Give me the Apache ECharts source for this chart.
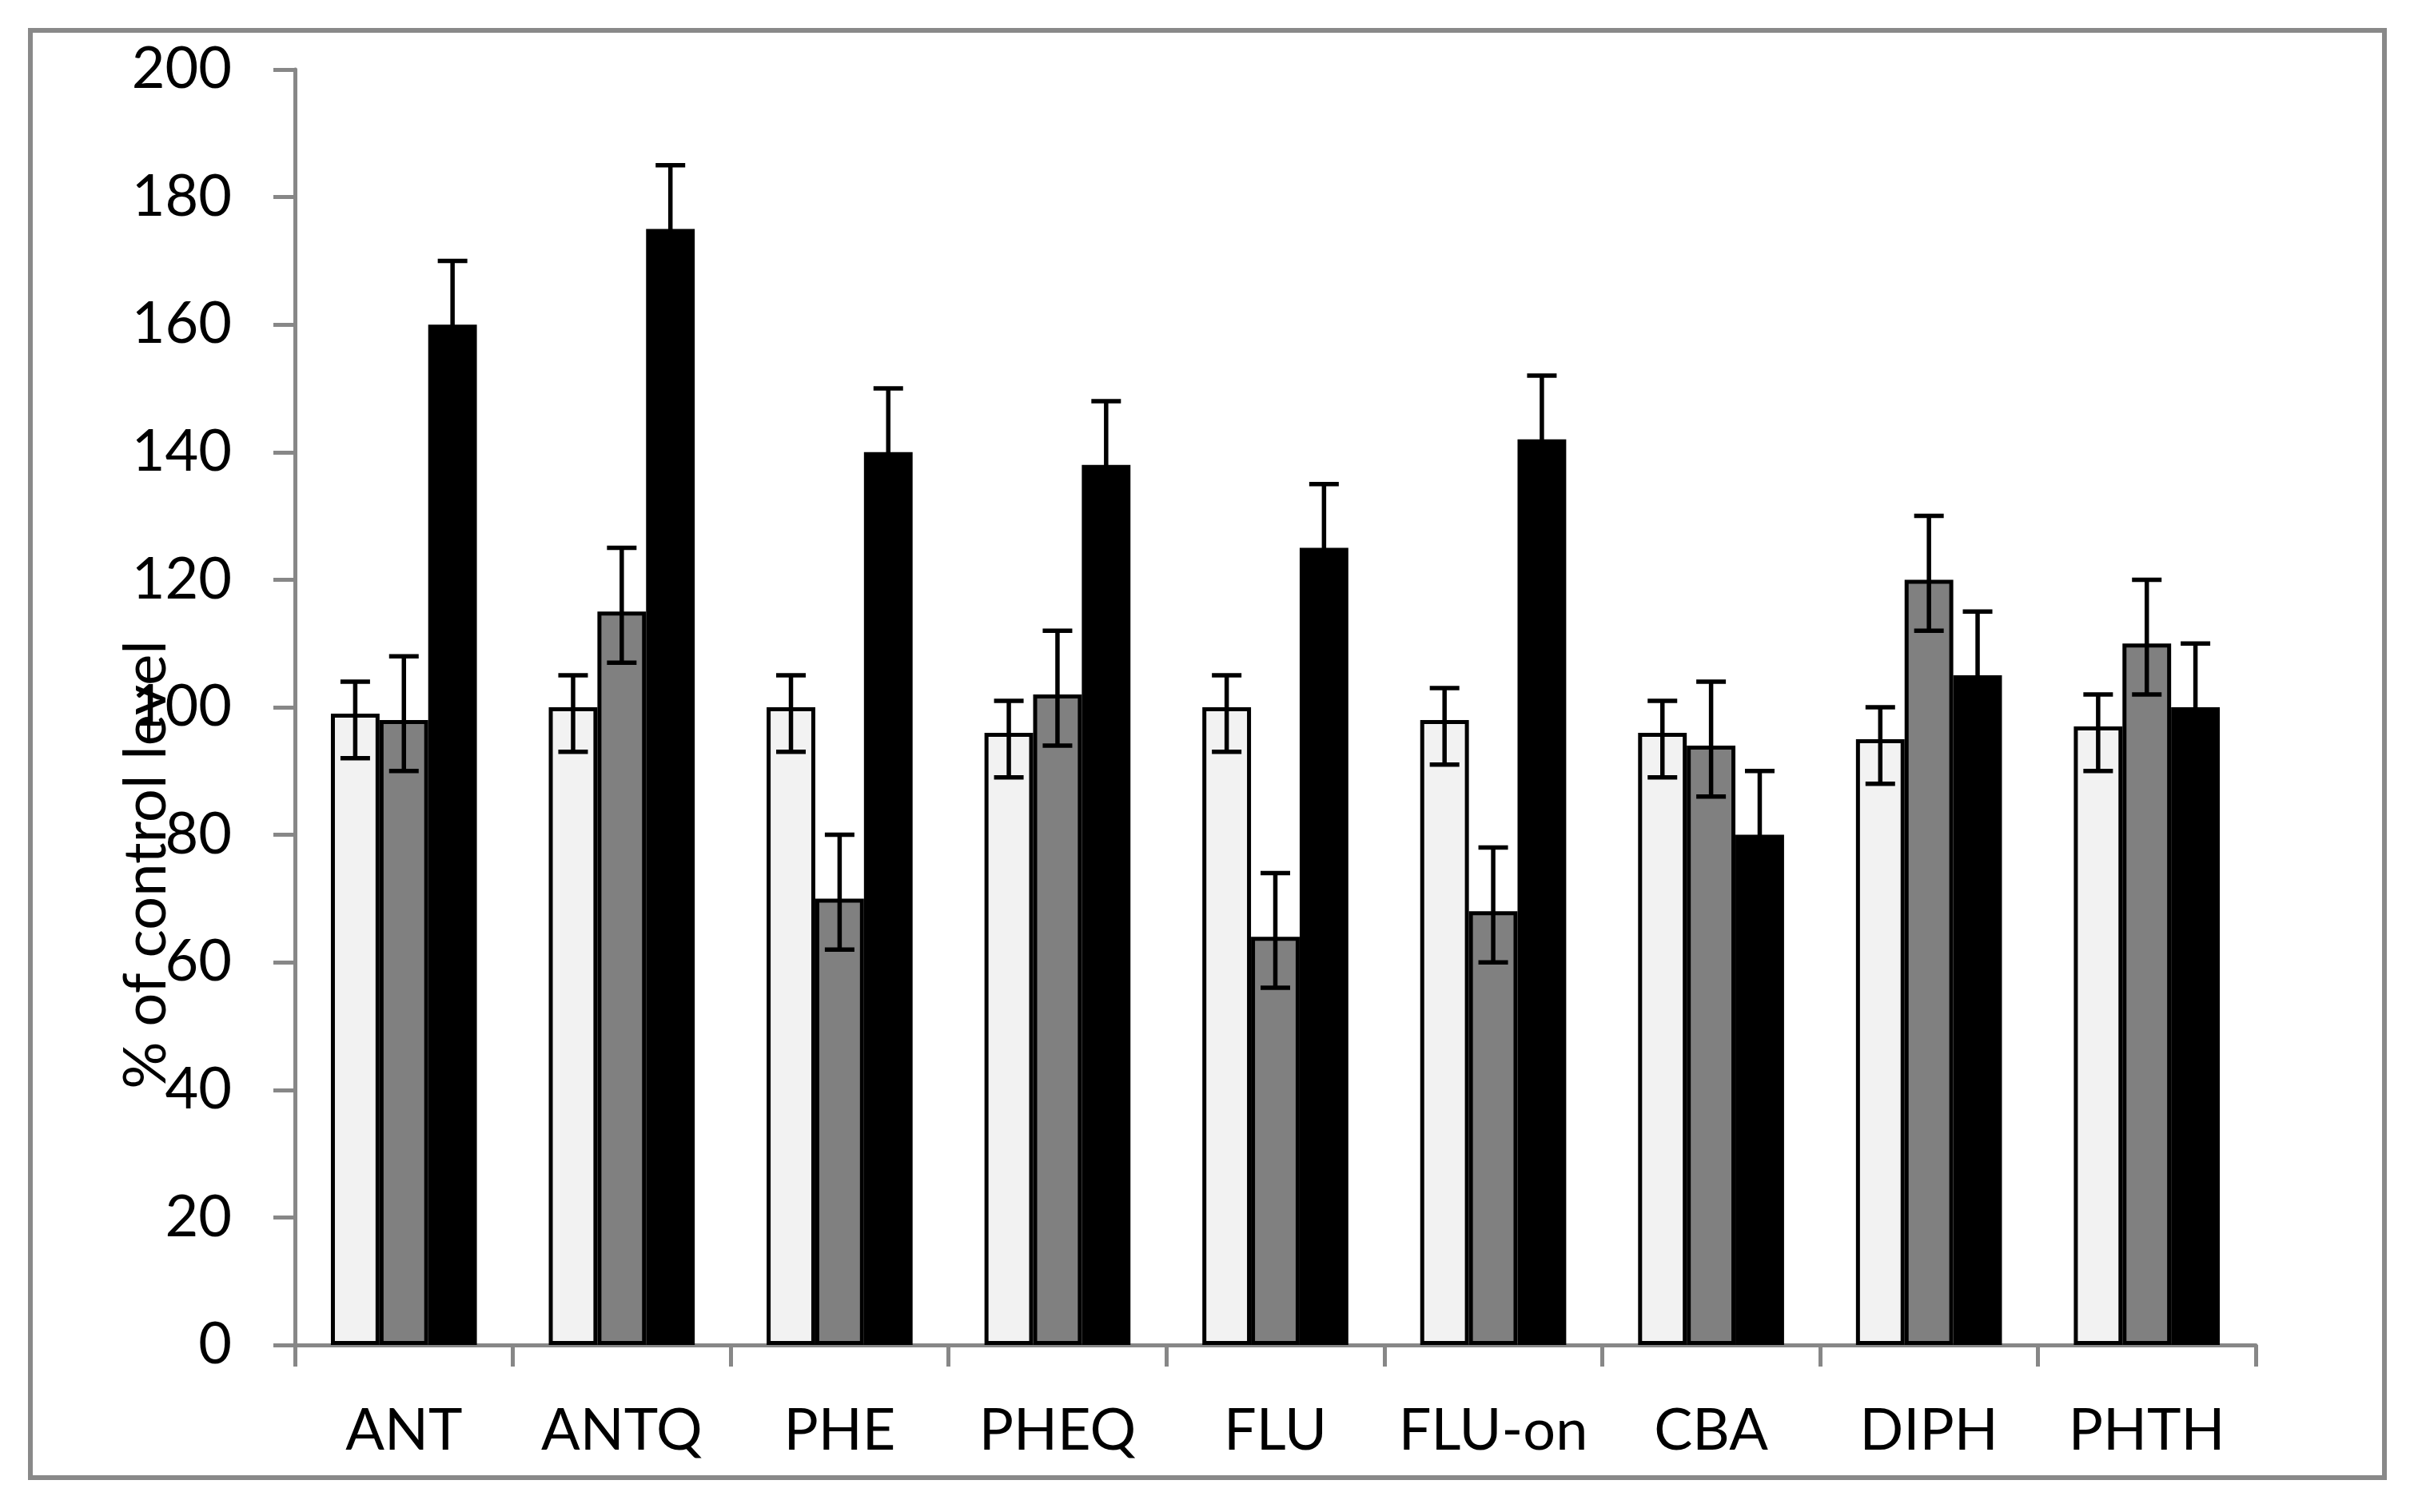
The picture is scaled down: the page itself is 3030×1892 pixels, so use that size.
<!DOCTYPE html>
<html><head><meta charset="utf-8">
<script src="https://cdn.jsdelivr.net/npm/echarts@6/dist/echarts.min.js"></script>
<style>html,body{margin:0;padding:0;background:#fff}#c{width:3030px;height:1892px}</style>
</head><body><div id="c"></div>
<script>
const categories = ['ANT', 'ANTQ', 'PHE', 'PHEQ', 'FLU', 'FLU-on', 'CBA', 'DIPH', 'PHTH'];
const lightValues = [99, 100, 100, 96, 100, 98, 96, 95, 97];
const lightErrUp = [5, 5, 5, 5, 5, 5, 5, 5, 5];
const lightErrDown = [7, 7, 7, 7, 7, 7, 7, 7, 7];
const grayValues = [98, 115, 70, 102, 64, 68, 94, 120, 110];
const grayErrUp = [10, 10, 10, 10, 10, 10, 10, 10, 10];
const grayErrDown = [8, 8, 8, 8, 8, 8, 8, 8, 8];
const blackValues = [160, 175, 140, 138, 125, 142, 80, 105, 100];
const blackErrUp = [10, 10, 10, 10, 10, 10, 10, 10, 10];
const blackErrDown = [8, 8, 8, 8, 8, 8, 8, 8, 8];
const yMin = 0, yMax = 200, yStep = 20;
const yAxisTitle = '% of control level';

const FONT = 'Lato';
const AXIS_GRAY = '#878787';
const CAT_GAP = 0.33;
const CAP = 37;
const ERR_W = 5.5;

function errSeries(vals, up, down, slot) {
  return {
    type: 'custom',
    z: 10,
    silent: true,
    data: vals.map((v, i) => [i, v + up[i], v - down[i]]),
    encode: { x: 0, y: [1, 2] },
    renderItem(params, api) {
      const band = api.size([1, 0])[0];
      const bw = band * (1 - CAT_GAP) / 3;
      const hi = api.coord([api.value(0), api.value(1)]);
      const lo = api.coord([api.value(0), api.value(2)]);
      const x = hi[0] + (slot - 1) * bw;
      const h = CAP / 2;
      const st = { stroke: '#000', lineWidth: ERR_W, lineCap: 'butt' };
      return {
        type: 'group',
        children: [
          { type: 'line', shape: { x1: x, y1: hi[1], x2: x, y2: lo[1] }, style: st },
          { type: 'line', shape: { x1: x - h, y1: hi[1], x2: x + h, y2: hi[1] }, style: st },
          { type: 'line', shape: { x1: x - h, y1: lo[1], x2: x + h, y2: lo[1] }, style: st }
        ]
      };
    }
  };
}

function barSeries(vals, color) {
  return {
    type: 'bar',
    data: vals,
    barGap: '0%',
    barCategoryGap: (CAT_GAP * 100) + '%',
    itemStyle: { color: color, borderColor: '#000', borderWidth: 5 },
    z: 2
  };
}

const chart = echarts.init(document.getElementById('c'), null, { renderer: 'canvas' });
chart.setOption({
  animation: false,
  backgroundColor: '#fff',
  textStyle: { fontFamily: FONT },
  grid: { left: 369, right: 208, top: 87, bottom: 209, containLabel: false, outerBoundsMode: 'none' },
  xAxis: {
    type: 'category',
    data: categories,
    axisLine: { show: true, lineStyle: { color: AXIS_GRAY, width: 5 } },
    axisTick: { show: true, length: 27, interval: 0, lineStyle: { color: AXIS_GRAY, width: 5 } },
    axisLabel: { interval: 0, margin: 72, fontSize: 72, color: '#000', fontFamily: FONT },
    splitLine: { show: false }
  },
  yAxis: {
    type: 'value',
    min: yMin, max: yMax, interval: yStep,
    axisLine: { show: true, lineStyle: { color: AXIS_GRAY, width: 5 } },
    axisTick: { show: true, length: 27, lineStyle: { color: AXIS_GRAY, width: 5 } },
    axisLabel: { margin: 79, fontSize: 72, color: '#000', fontFamily: FONT },
    splitLine: { show: false }
  },
  graphic: [
    {
      type: 'rect', z: -10,
      shape: { x: 38, y: 38, width: 2945, height: 1811 },
      style: { fill: 'none', stroke: '#898989', lineWidth: 6 }
    },
    {
      type: 'text', z: 100,
      x: 183, y: 1082, rotation: Math.PI / 2,
      style: { text: yAxisTitle, font: '74px Lato', fill: '#000', align: 'center', verticalAlign: 'middle', textAlign: 'center', textVerticalAlign: 'middle' }
    }
  ],
  series: [
    barSeries(lightValues, '#f2f2f2'),
    barSeries(grayValues, '#808080'),
    barSeries(blackValues, '#000000'),
    errSeries(lightValues, lightErrUp, lightErrDown, 0),
    errSeries(grayValues, grayErrUp, grayErrDown, 1),
    errSeries(blackValues, blackErrUp, blackErrDown, 2)
  ]
});
</script>
</body></html>
